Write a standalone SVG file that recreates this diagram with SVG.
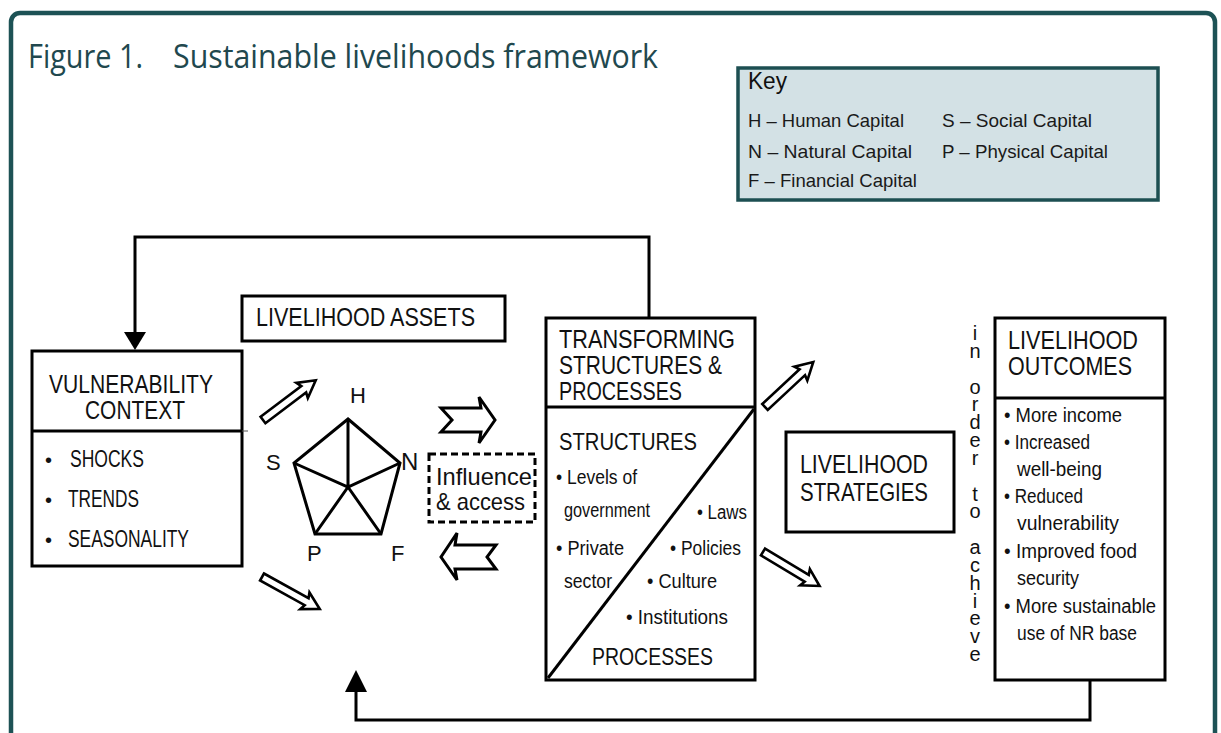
<svg xmlns="http://www.w3.org/2000/svg" xmlns:xlink="http://www.w3.org/1999/xlink" width="1221" height="733" viewBox="0 0 1221 733">
<style>
.t{font-family:"Liberation Sans",Arial,sans-serif;fill:#111}
.box{fill:#fff;stroke:#000;stroke-width:3}
.ln{fill:none;stroke:#000;stroke-width:3}
.blk{fill:#fff;stroke:#000;stroke-width:3;stroke-linejoin:miter}
.thin{fill:#fff;stroke:#000;stroke-width:2.6;stroke-linejoin:miter}
.h26{font-size:26px}
.h25{font-size:25px}
.h24{font-size:24px}
.b20{font-size:20px}
.k{font-size:19px;fill:#1a1a1a}
.vert{writing-mode:vertical-rl;text-orientation:upright}
</style>
<defs>
<path id="thinArrow" d="M0,-4 L51,-4 L49,-9.5 L66,0 L49,9.5 L51,4 L0,4 Z"/>
</defs>
<rect width="1221" height="733" fill="#fff"/>
<rect x="11" y="13" width="1204" height="745" rx="9" fill="#fff" stroke="#1d5255" stroke-width="4.5"/>

<g id="title">
<text class="t" style="font-family:'Open Sans','Liberation Sans',sans-serif;fill:#21484e" font-size="33" y="68"><tspan x="28" textLength="115" lengthAdjust="spacingAndGlyphs">Figure 1.</tspan><tspan x="173" textLength="485" lengthAdjust="spacingAndGlyphs">Sustainable livelihoods framework</tspan></text>
</g>

<g id="key">
<rect x="738" y="68" width="420" height="132" fill="#d3e1e5" stroke="#1d4f52" stroke-width="3.5"/>
<text class="t" x="748" y="89" font-size="24" fill="#1a1a1a" textLength="39" lengthAdjust="spacingAndGlyphs">Key</text>
<text class="t k" x="748" y="127" textLength="156" lengthAdjust="spacingAndGlyphs">H – Human Capital</text>
<text class="t k" x="942" y="127" textLength="150" lengthAdjust="spacingAndGlyphs">S – Social Capital</text>
<text class="t k" x="748" y="158" textLength="164" lengthAdjust="spacingAndGlyphs">N – Natural Capital</text>
<text class="t k" x="942" y="158" textLength="166" lengthAdjust="spacingAndGlyphs">P – Physical Capital</text>
<text class="t k" x="748" y="187" textLength="169" lengthAdjust="spacingAndGlyphs">F – Financial Capital</text>
</g>

<g id="connectors">
<path class="ln" d="M649,318 V237 H135 V336"/>
<polygon points="124,332 146,332 135,350" fill="#000"/>
<path class="ln" d="M1090,680 V720 H356 V688"/>
<polygon points="345,692 367,692 356,670" fill="#000"/>
<use xlink:href="#thinArrow" class="thin" transform="translate(263,420) rotate(-37)"/>
<use xlink:href="#thinArrow" class="thin" transform="translate(262,577) rotate(29)"/>
<use xlink:href="#thinArrow" class="thin" transform="translate(765,407) rotate(-43)"/>
<use xlink:href="#thinArrow" class="thin" transform="translate(763,552) rotate(31)"/>
<path class="blk" d="M441,408 L481,408 L479,397 L495,420 L479,443 L481,432 L441,432 L452,420 Z"/>
<path class="blk" d="M496,545 L455,545 L457,533 L441,557 L457,580 L455,569 L496,569 L487,557 Z"/>
</g>

<g id="vulnerability">
<rect class="box" x="32" y="351" width="210" height="215"/>
<line x1="32" y1="431" x2="242" y2="431" stroke="#000" stroke-width="3"/>
<line x1="242" y1="431" x2="248" y2="431" stroke="#555" stroke-width="1"/>
<text class="t h25" x="49" y="393" textLength="164" lengthAdjust="spacingAndGlyphs">VULNERABILITY</text>
<text class="t h25" x="85" y="419" textLength="100" lengthAdjust="spacingAndGlyphs">CONTEXT</text>
<text class="t h24" y="467"><tspan x="45" font-size="20">•</tspan><tspan x="70" textLength="74" lengthAdjust="spacingAndGlyphs">SHOCKS</tspan></text>
<text class="t h24" y="507"><tspan x="45" font-size="20">•</tspan><tspan x="68" textLength="71" lengthAdjust="spacingAndGlyphs">TRENDS</tspan></text>
<text class="t h24" y="547"><tspan x="45" font-size="20">•</tspan><tspan x="68" textLength="121" lengthAdjust="spacingAndGlyphs">SEASONALITY</tspan></text>
</g>

<g id="assets">
<rect class="box" x="242" y="296" width="263" height="45"/>
<text class="t h26" x="256" y="326" textLength="219" lengthAdjust="spacingAndGlyphs">LIVELIHOOD ASSETS</text>
<polygon points="348,419 400,463 381,534 315,534 294,463" fill="none" stroke="#000" stroke-width="3" stroke-linejoin="miter"/>
<path d="M348,419 L348,487 M294,463 L348,487 L400,463 M315,534 L348,487 L381,534" fill="none" stroke="#000" stroke-width="3"/>
<text class="t" x="350" y="403" font-size="22" fill="#333">H</text>
<text class="t" x="266" y="470" font-size="22" fill="#555">S</text>
<text class="t" x="401" y="470" font-size="24" fill="#000">N</text>
<text class="t" x="307" y="561" font-size="22" fill="#aaa">P</text>
<text class="t" x="391" y="561" font-size="22" fill="#bbb">F</text>
</g>

<g id="influence">
<rect x="429" y="454" width="106" height="68" fill="#fff" stroke="#000" stroke-width="3" stroke-dasharray="7 4"/>
<text class="t h24" x="436" y="485" textLength="96" lengthAdjust="spacingAndGlyphs">Influence</text>
<text class="t h24" x="436" y="510" textLength="89" lengthAdjust="spacingAndGlyphs">&amp; access</text>
</g>

<g id="transforming">
<rect class="box" x="546" y="318" width="209" height="362"/>
<line x1="546" y1="407" x2="755" y2="407" stroke="#000" stroke-width="3"/>
<line x1="548" y1="678" x2="754" y2="409" stroke="#000" stroke-width="3"/>
<text class="t h25" x="559" y="348" textLength="176" lengthAdjust="spacingAndGlyphs">TRANSFORMING</text>
<text class="t h25" x="559" y="374" textLength="163" lengthAdjust="spacingAndGlyphs">STRUCTURES &amp;</text>
<text class="t h25" x="559" y="400" textLength="123" lengthAdjust="spacingAndGlyphs">PROCESSES</text>
<text class="t h24" x="559" y="450" textLength="138" lengthAdjust="spacingAndGlyphs">STRUCTURES</text>
<text class="t b20" x="556" y="484" textLength="81" lengthAdjust="spacingAndGlyphs">• Levels of</text>
<text class="t b20" x="564" y="517" textLength="86" lengthAdjust="spacingAndGlyphs">government</text>
<text class="t b20" x="697" y="519" textLength="50" lengthAdjust="spacingAndGlyphs">• Laws</text>
<text class="t b20" x="556" y="555" textLength="68" lengthAdjust="spacingAndGlyphs">• Private</text>
<text class="t b20" x="670" y="555" textLength="71" lengthAdjust="spacingAndGlyphs">• Policies</text>
<text class="t b20" x="564" y="588" textLength="48" lengthAdjust="spacingAndGlyphs">sector</text>
<text class="t b20" x="647" y="588" textLength="70" lengthAdjust="spacingAndGlyphs">• Culture</text>
<text class="t b20" x="626" y="624" textLength="102" lengthAdjust="spacingAndGlyphs">• Institutions</text>
<text class="t h24" x="592" y="665" textLength="121" lengthAdjust="spacingAndGlyphs">PROCESSES</text>
</g>

<g id="strategies">
<rect class="box" x="786" y="432" width="168" height="100"/>
<text class="t h26" x="800" y="473" textLength="128" lengthAdjust="spacingAndGlyphs">LIVELIHOOD</text>
<text class="t h26" x="800" y="501" textLength="128" lengthAdjust="spacingAndGlyphs">STRATEGIES</text>
</g>

<g id="in-order-to-achieve">
<text class="t vert" x="975" y="322" font-size="20" fill="#222" textLength="343" lengthAdjust="spacing">in order to achieve</text>
</g>

<g id="outcomes">
<rect class="box" x="995" y="318" width="170" height="362"/>
<line x1="995" y1="398" x2="1165" y2="398" stroke="#000" stroke-width="3"/>
<text class="t h25" x="1008" y="349" textLength="130" lengthAdjust="spacingAndGlyphs">LIVELIHOOD</text>
<text class="t h25" x="1008" y="375" textLength="124" lengthAdjust="spacingAndGlyphs">OUTCOMES</text>
<text class="t b20" x="1004" y="422" textLength="118" lengthAdjust="spacingAndGlyphs">• More income</text>
<text class="t b20" x="1004" y="449" textLength="86" lengthAdjust="spacingAndGlyphs">• Increased</text>
<text class="t b20" x="1017" y="476" textLength="85" lengthAdjust="spacingAndGlyphs">well-being</text>
<text class="t b20" x="1004" y="503" textLength="79" lengthAdjust="spacingAndGlyphs">• Reduced</text>
<text class="t b20" x="1017" y="530" textLength="102" lengthAdjust="spacingAndGlyphs">vulnerability</text>
<text class="t b20" x="1004" y="558" textLength="133" lengthAdjust="spacingAndGlyphs">• Improved food</text>
<text class="t b20" x="1017" y="585" textLength="62" lengthAdjust="spacingAndGlyphs">security</text>
<text class="t b20" x="1004" y="613" textLength="152" lengthAdjust="spacingAndGlyphs">• More sustainable</text>
<text class="t b20" x="1017" y="640" textLength="120" lengthAdjust="spacingAndGlyphs">use of NR base</text>
</g>
</svg>
